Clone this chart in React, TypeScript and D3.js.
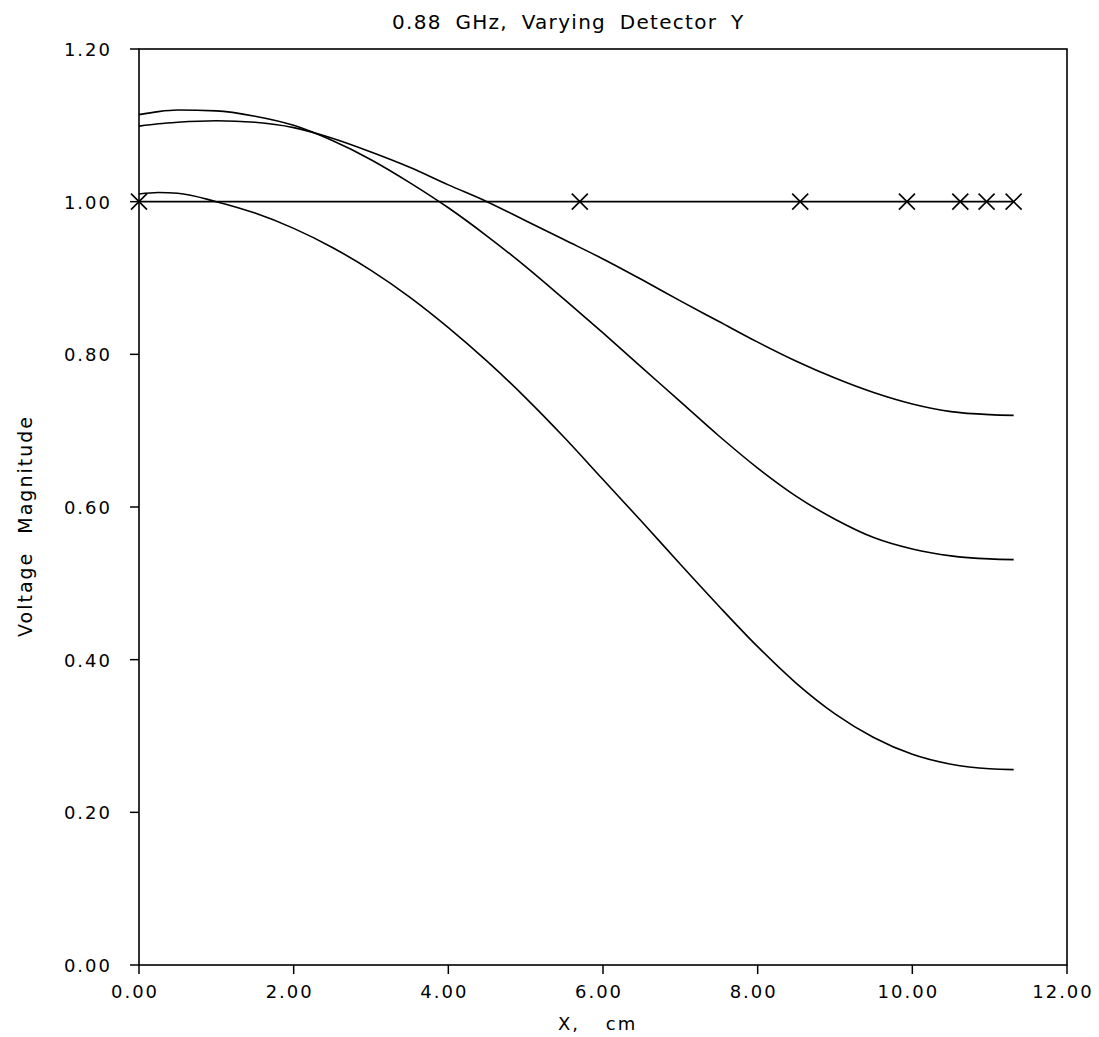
import React from "react";
import * as d3 from "d3";

const xTicks = [0, 2, 4, 6, 8, 10, 12];
const yTicks = [0, 0.2, 0.4, 0.6, 0.8, 1.0, 1.2];

const xs = [0, 0.25, 0.5, 1.0, 1.5, 2.0, 2.5, 3.0, 3.5, 4.0, 4.5, 5.0, 5.5, 6.0, 6.5, 7.0, 7.5, 8.0, 8.5, 9.0, 9.5, 10.0, 10.5, 11.0, 11.31];

const seriesA = [1.114, 1.118, 1.120, 1.119, 1.112, 1.100, 1.080, 1.055, 1.025, 0.992, 0.955, 0.915, 0.872, 0.828, 0.783, 0.738, 0.693, 0.651, 0.614, 0.584, 0.560, 0.545, 0.536, 0.532, 0.531];
const seriesB = [1.099, 1.102, 1.104, 1.106, 1.104, 1.097, 1.083, 1.065, 1.045, 1.022, 1.000, 0.975, 0.950, 0.925, 0.898, 0.870, 0.843, 0.816, 0.791, 0.769, 0.750, 0.735, 0.725, 0.721, 0.720];
const seriesC = [1.010, 1.012, 1.011, 1.000, 0.985, 0.965, 0.940, 0.910, 0.875, 0.835, 0.791, 0.743, 0.691, 0.636, 0.581, 0.525, 0.470, 0.417, 0.369, 0.329, 0.298, 0.276, 0.263, 0.257, 0.256];

const refX = [0, 5.7, 8.55, 9.93, 10.62, 10.96, 11.31];
const refY = 1.0;

const title = "0.88 GHz, Varying Detector Y";
const xLabel = "X, cm";
const yLabel = "Voltage Magnitude";

export default function App() {
  const W = 1099, H = 1037;
  const x = d3.scaleLinear().domain([0, 12]).range([139, 1067]);
  const y = d3.scaleLinear().domain([0, 1.2]).range([965, 49]);
  const line = d3.line<number>().x((_, i) => x(xs[i])).y((d) => y(d)).curve(d3.curveMonotoneX);
  const font = "'DejaVu Sans', sans-serif";
  const refPath = d3.line<number>().x((d) => x(d)).y(() => y(refY))(refX) || "";
  const m = 8;
  return (
    <svg width={W} height={H} style={{ display: "block", position: "absolute", left: 0, top: 0, background: "#fff" }}>
      <rect x={0} y={0} width={W} height={H} fill="#fff" />
      <rect x={x(0)} y={y(1.2)} width={x(12) - x(0)} height={y(0) - y(1.2)} fill="none" stroke="#000" strokeWidth={1.6} />
      {xTicks.map((t) => (
        <g key={"xt" + t}>
          <line x1={x(t)} x2={x(t)} y1={y(0)} y2={y(0) + 9} stroke="#000" strokeWidth={1.5} />
          <text x={x(t) - 4} y={998} textAnchor="middle" fontFamily={font} fontSize={18} letterSpacing={2} fill="#000">{t.toFixed(2)}</text>
        </g>
      ))}
      {yTicks.map((t) => (
        <g key={"yt" + t}>
          <line x1={x(0) - 9} x2={x(0)} y1={y(t)} y2={y(t)} stroke="#000" strokeWidth={1.5} />
          <text x={112} y={y(t) + 7} textAnchor="end" fontFamily={font} fontSize={18} letterSpacing={2} fill="#000">{t.toFixed(2)}</text>
        </g>
      ))}
      <text x={392} y={29} fontFamily={font} fontSize={20} letterSpacing={1.3} wordSpacing={6} fill="#000">{title}</text>
      <text x={558} y={1030} fontFamily={font} fontSize={18} letterSpacing={2} wordSpacing={18} fill="#000">{xLabel}</text>
      <text transform={`translate(32,637) rotate(-90)`} fontFamily={font} fontSize={19} letterSpacing={2} wordSpacing={10} fill="#000">{yLabel}</text>
      <path d={refPath} fill="none" stroke="#000" strokeWidth={1.6} />
      {refX.map((v, i) => (
        <g key={"m" + i} stroke="#000" strokeWidth={1.6}>
          <line x1={x(v) - m} x2={x(v) + m} y1={y(refY) - m} y2={y(refY) + m} />
          <line x1={x(v) - m} x2={x(v) + m} y1={y(refY) + m} y2={y(refY) - m} />
        </g>
      ))}
      {[seriesA, seriesB, seriesC].map((s, i) => (
        <path key={"s" + i} d={line(s) || ""} fill="none" stroke="#000" strokeWidth={1.6} />
      ))}
    </svg>
  );
}
